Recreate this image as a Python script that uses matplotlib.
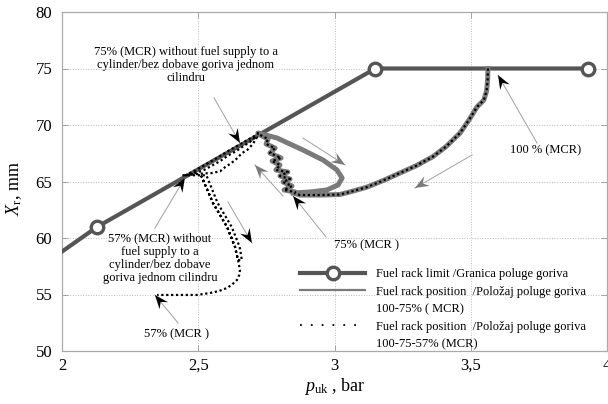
import numpy as np
import matplotlib
matplotlib.use("Agg")
import matplotlib.pyplot as plt
from matplotlib.lines import Line2D
from matplotlib.patches import Polygon

plt.rcParams['font.family'] = ['Liberation Serif', 'DejaVu Serif']
plt.rcParams['mathtext.fontset'] = 'custom'
plt.rcParams['mathtext.rm'] = 'Liberation Serif'
plt.rcParams['mathtext.it'] = 'Liberation Serif:italic'

# ---- fuel rack limit (p_uk in bar, X_r in mm) ----
limit_p = [2.00, 2.13, 3.15, 3.93]
limit_x = [58.8, 61.0, 75.0, 75.0]

# ---- load reduction 100 % -> 75 % MCR (shared by both runs) ----
descent_p = [3.563, 3.562, 3.558, 3.548, 3.523, 3.495, 3.461, 3.410, 3.361,
             3.300, 3.240, 3.180, 3.119, 3.060, 3.020, 2.950, 2.873, 2.855]
descent_x = [75.0, 74.0, 73.0, 72.2, 71.6, 70.5, 69.3, 68.1, 67.2,
             66.4, 65.75, 65.1, 64.5, 64.1, 63.85, 63.8, 63.8, 63.95]

# ---- 75 % MCR, one cylinder cut out: rack rises to the limit ----
cut75_p = [2.855, 2.815, 2.844, 2.811, 2.837, 2.800, 2.829, 2.785, 2.800,
           2.771, 2.804, 2.763, 2.782, 2.749, 2.756, 2.727, 2.719]
cut75_x = [64.07, 64.25, 64.60, 64.96, 65.22, 65.49, 65.84, 66.02, 66.46,
           66.81, 67.08, 67.52, 67.96, 68.32, 68.76, 69.12, 69.29]

# ---- return to 75 % MCR after the cylinder is back in service ----
return75_p = [2.719, 2.789, 2.884, 2.958, 3.009, 3.028, 3.013, 2.972, 2.910, 2.848]
return75_x = [69.29, 68.85, 67.79, 66.90, 66.02, 65.31, 64.69, 64.25, 64.07, 63.98]

# ---- 75 % -> 57 % MCR with the cylinder cut out: sliding along the limit ----
slide_p = [2.719, 2.690, 2.650, 2.610, 2.570, 2.530, 2.490, 2.455,
           2.520, 2.550, 2.580, 2.610, 2.640, 2.670, 2.690, 2.710,
           2.715, 2.700, 2.680, 2.660, 2.640, 2.620, 2.600, 2.580, 2.550, 2.510, 2.470, 2.445,
           2.530]
slide_x = [69.20, 68.80, 68.25, 67.70, 67.10, 66.55, 66.00, 65.55,
           66.00, 66.40, 66.80, 67.30, 67.70, 68.20, 68.50, 69.00,
           68.90, 68.30, 67.80, 67.50, 67.00, 66.60, 66.30, 65.90, 65.75, 65.70, 65.60, 65.55,
           65.55]

# ---- 57 % MCR with all cylinders: rack drops ----
drop57_p = [2.571, 2.623, 2.652, 2.660, 2.646, 2.635, 2.606, 2.554, 2.512,
            2.554, 2.606, 2.635, 2.646, 2.653, 2.650, 2.642, 2.625, 2.606, 2.575,
            2.543, 2.495, 2.349]
drop57_x = [63.10, 60.97, 59.20, 58.05, 58.05, 59.20, 60.97, 63.10, 65.45,
            63.10, 60.97, 59.20, 58.05, 57.17, 56.70, 56.28, 55.90, 55.58, 55.30,
            55.13, 54.96, 54.96]

run1_p = descent_p + cut75_p + return75_p
run1_x = descent_x + cut75_x + return75_x
run2_p = descent_p + cut75_p + slide_p + drop57_p
run2_x = descent_x + cut75_x + slide_x + drop57_x

x_ticks = [2, 2.5, 3, 3.5, 4]
x_tick_labels = ['2', '2,5', '3', '3,5', '4']
y_ticks = [50, 55, 60, 65, 70, 75, 80]

legend_labels = ['Fuel rack limit /Granica poluge goriva',
                 'Fuel rack position  /Položaj poluge goriva',
                 '100-75% ( MCR)',
                 'Fuel rack position  /Položaj poluge goriva',
                 '100-75-57% (MCR)']

# annotation texts: (text, p, X)
notes = [
    ('75% (MCR) without fuel supply to a\ncylinder/bez dobave goriva jednom\ncilindru', 2.455, 75.3),
    ('57% (MCR) without\nfuel supply to a\ncylinder/bez dobave\ngoriva jednom cilindru', 2.36, 58.2),
    ('57% (MCR )', 2.422, 51.5),
    ('75% (MCR )', 3.119, 59.38),
    ('100 % (MCR)', 3.776, 67.79),
]
# arrows: (tail, tip, head colour)
arrows = [
    ((2.558, 72.39), (2.653, 68.41), 'black'),
    ((2.341, 60.88), (2.451, 65.31), 'black'),
    ((2.426, 52.48), (2.341, 54.96), 'black'),
    ((2.969, 60.09), (2.848, 63.72), 'black'),
    ((3.743, 68.41), (3.600, 74.42), 'black'),
    ((2.609, 63.19), (2.697, 59.56), 'black'),
    ((2.884, 68.85), (3.039, 66.46), '#7a7a7a'),
    ((2.811, 63.72), (2.708, 66.46), '#7a7a7a'),
    ((3.505, 67.35), (3.295, 64.42), '#7a7a7a'),
]

fig = plt.figure(figsize=(6.08, 4.04), dpi=100)
ax = fig.add_axes([62 / 608, 1 - 351 / 404, 545 / 608, 339 / 404])
ax.set_xlim(2, 4)
ax.set_ylim(50, 80)

limit_color = '#555555'
gray_color = '#7a7a7a'

ax.plot(limit_p, limit_x, color=limit_color, lw=3.0, zorder=3,
        marker='o', markevery=[1, 2, 3], markersize=9, markerfacecolor='white',
        markeredgecolor=limit_color, markeredgewidth=2.4)
ax.plot(run1_p, run1_x, color=gray_color, lw=3.6, zorder=4, solid_joinstyle='round')
ax.plot(run2_p, run2_x, color='black', lw=1.6, zorder=5, linestyle=(0, (1, 1.2)))

for text, p, x in notes:
    ax.text(p, x, text, ha='center', va='center', fontsize=9, linespacing=1.15, zorder=6)


def draw_arrow(tail, tip, head_color, hl=14, hw=5.5, notch=5):
    T = ax.transData
    p0 = T.transform(tail)
    p1 = T.transform(tip)
    d = p1 - p0
    u = d / np.hypot(*d)
    n = np.array([-u[1], u[0]])
    base = p1 - u * hl
    ax.plot([tail[0], tip[0]], [tail[1], tip[1]], color='#a0a0a0', lw=0.7, zorder=6)
    pts = np.array([p1, base + n * hw, p1 - u * (hl - notch), base - n * hw])
    ax.add_patch(Polygon(T.inverted().transform(pts), closed=True,
                         facecolor=head_color, edgecolor='none', zorder=7))


for tail, tip, c in arrows:
    draw_arrow(tail, tip, c)

ax.set_xticks(x_ticks)
ax.set_xticklabels(x_tick_labels)
ax.set_yticks(y_ticks)
ax.tick_params(direction='in', length=4, width=0.6, color='#999999',
               labelsize=12, top=True, right=True)
ax.tick_params(axis='y', pad=7)
ax.tick_params(axis='x', pad=5)
ax.grid(True, color='#bbbbbb', linestyle=':', linewidth=0.7)
for s in ax.spines.values():
    s.set_color('#aaaaaa')
    s.set_linewidth(0.9)

ax.set_xlabel(r'$p_{\mathrm{uk}}$ , bar', fontsize=13)
ax.set_ylabel(r'$X_{\mathrm{r}}$, mm', fontsize=13)
ax.xaxis.set_label_coords(0.5, -0.075)
ax.yaxis.set_label_coords(-0.07, 0.48)

handles = [
    Line2D([], [], color=limit_color, lw=3.0, marker='o', markersize=9,
           markerfacecolor='white', markeredgecolor=limit_color, markeredgewidth=2.4),
    Line2D([], [], color=gray_color, lw=1.6),
    Line2D([], [], color='none'),
    Line2D([], [], color='black', lw=1.3, linestyle=(0, (1, 5))),
    Line2D([], [], color='none'),
]
ax.legend(handles, legend_labels, loc='upper left', bbox_to_anchor=(0.437, 0.245),
          frameon=False, fontsize=9, numpoints=1, handlelength=5.2,
          handletextpad=0.9, labelspacing=0.45, borderpad=0, borderaxespad=0)

fig.savefig('out.png', dpi=100)
